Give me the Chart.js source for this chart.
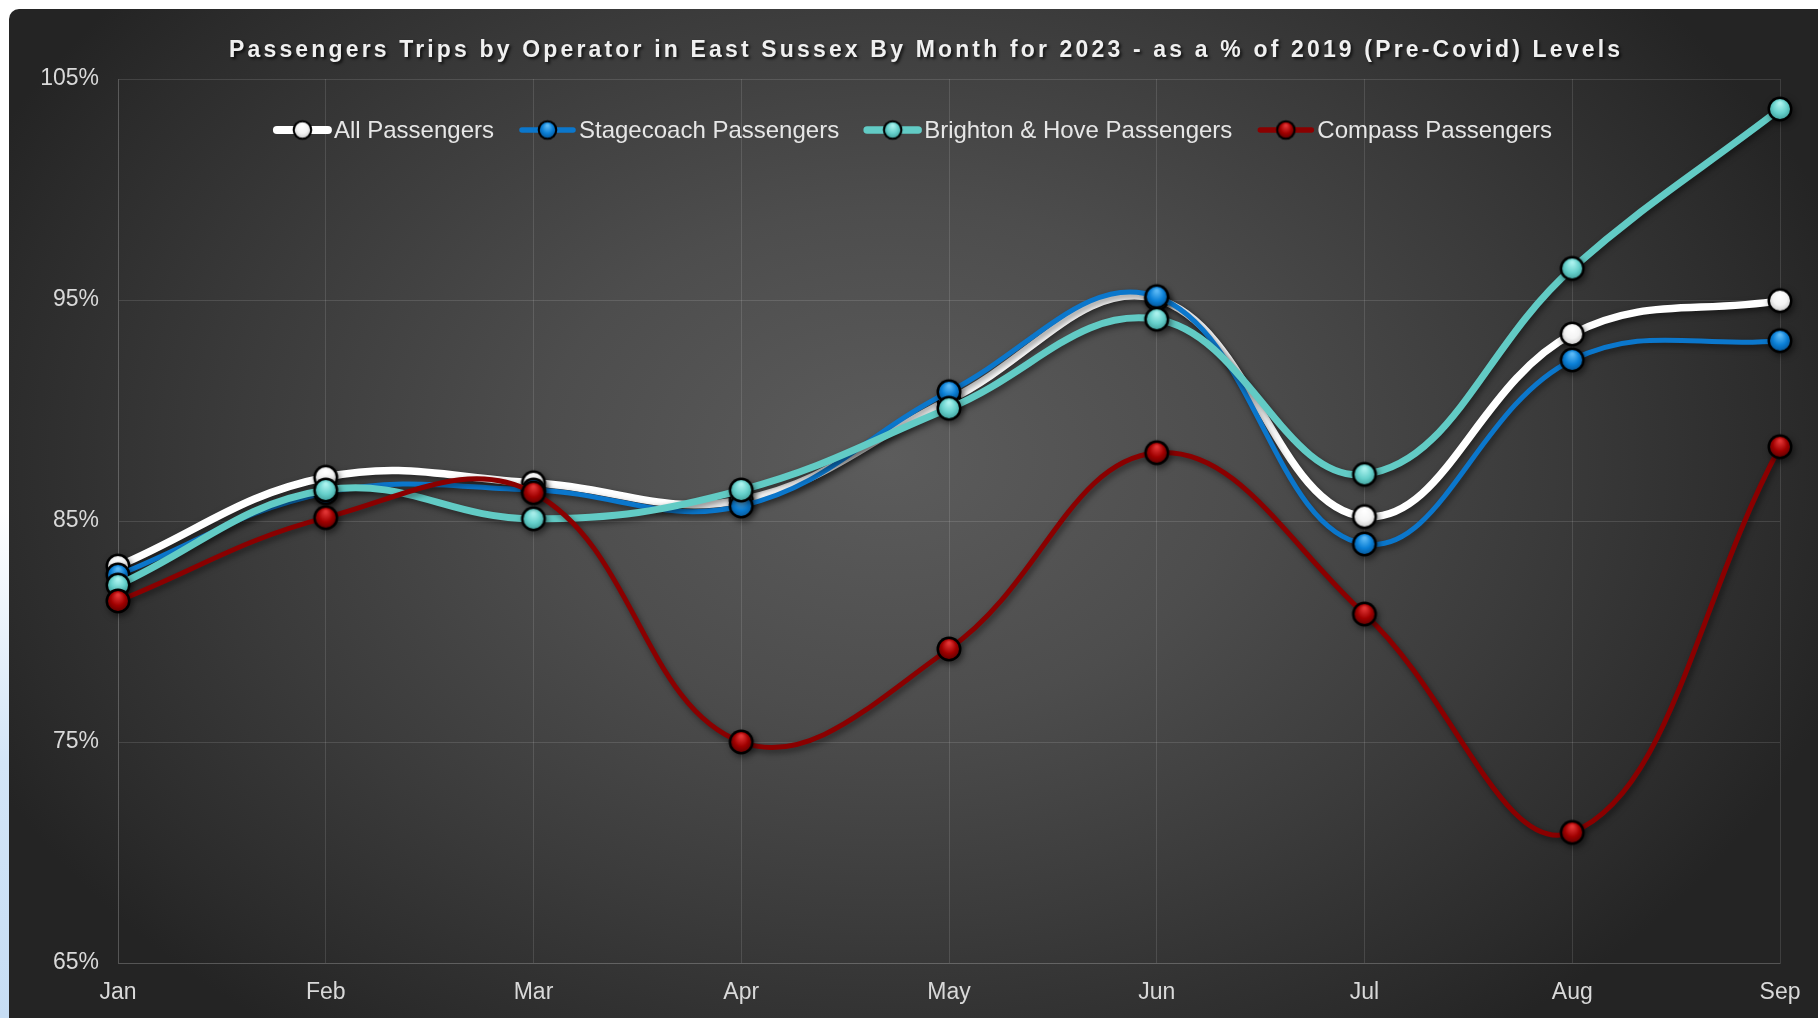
<!DOCTYPE html>
<html>
<head>
<meta charset="utf-8">
<title>Passenger Trips by Operator - East Sussex 2023</title>
<script src="https://cdn.jsdelivr.net/npm/chart.js@4.4.0/dist/chart.umd.min.js"></script>
<style>
  html, body {
    margin: 0;
    padding: 0;
    width: 1818px;
    height: 1018px;
    overflow: hidden;
    background: linear-gradient(to bottom, #ffffff 0%, #ffffff 50%, #d3e5f7 75%, #c6ddf4 100%);
  }
  .panel {
    position: absolute;
    left: 9px;
    top: 9px;
    width: 1809px;
    height: 1009px;
    border-top-left-radius: 10px;
    background: radial-gradient(ellipse 1000px 720px at 880px 450px,
      #5c5c5c 0%, #4d4d4d 35%, #3b3b3b 65%, #2b2b2b 90%, #242424 100%);
  }
  .chart-box {
    position: absolute;
    left: 0;
    top: 0;
    width: 1818px;
    height: 1018px;
  }
</style>
</head>
<body>
<div class="panel"></div>
<div class="chart-box"><canvas id="tripsChart"></canvas></div>

<script>
// data (% of 2019 levels)
const months = ['Jan', 'Feb', 'Mar', 'Apr', 'May', 'Jun', 'Jul', 'Aug', 'Sep'];
const allPassengers = [82.96, 86.98, 86.73, 85.95, 90.47, 95.05, 85.2, 93.46, 94.97];
const stagecoach = [82.56, 86.28, 86.4, 85.68, 90.85, 95.15, 83.96, 92.29, 93.16];
const brightonHove = [82.1, 86.4, 85.1, 86.4, 90.1, 94.13, 87.11, 96.43, 103.64];
const compass = [81.38, 85.15, 86.28, 75.0, 79.21, 88.09, 80.79, 70.91, 88.36];
const yTicks = [65, 75, 85, 95, 105];

const titleText = 'Passengers Trips by Operator in East Sussex By Month for 2023 - as a % of 2019 (Pre-Covid) Levels';
const FONT = '"Liberation Sans", Arial, sans-serif';
const gridColor = 'rgba(255,255,255,0.12)';
const tickColor = '#d9d9d9';

// glossy marker drawn once, used as pointStyle image
function makeBall(base, light, dark, r, b) {
    const size = Math.ceil((r + b) * 2) + 2;
    const cv = document.createElement('canvas');
    cv.width = size;
    cv.height = size;
    const c = cv.getContext('2d');
    const cx = size / 2, cy = size / 2;
    c.beginPath();
    c.arc(cx, cy, r + b / 2, 0, Math.PI * 2);
    c.fillStyle = '#000';
    c.fill();
    const g = c.createRadialGradient(cx, cy - r * 0.55, r * 0.1, cx, cy, r * 1.1);
    g.addColorStop(0, light);
    g.addColorStop(0.55, base);
    g.addColorStop(1, dark);
    c.beginPath();
    c.arc(cx, cy, r - b / 2 + 0.5, 0, Math.PI * 2);
    c.fillStyle = g;
    c.fill();
    return cv;
}

const ballColours = [
    ['#f4f4f4', '#ffffff', '#c4c4c4'],
    ['#0a7fd6', '#5ab8f5', '#05508f'],
    ['#66d0cb', '#aaf2ee', '#3a9a96'],
    ['#a00000', '#e03434', '#560000']
];
const pointBalls = ballColours.map(c => makeBall(c[0], c[1], c[2], 11, 3));
const legendBalls = ballColours.map(c => makeBall(c[0], c[1], c[2], 8.5, 2.6));

function series(label, data, colour, width, ball, order) {
    return {
        label: label,
        data: data,
        borderColor: colour,
        backgroundColor: colour,
        borderWidth: width,
        tension: 0.4,
        pointStyle: ball,
        pointRadius: 13,
        pointHoverRadius: 13,
        order: order,
        clip: false
    };
}

// drop shadow under each line and its markers
const shadowPlugin = {
    id: 'lineShadow',
    beforeDatasetDraw(chart) {
        const c = chart.ctx;
        c.save();
        c.shadowColor = 'rgba(0,0,0,0.5)';
        c.shadowBlur = 6;
        c.shadowOffsetX = 2;
        c.shadowOffsetY = 3;
    },
    afterDatasetDraw(chart) {
        chart.ctx.restore();
    }
};

// letter-spaced bold title
const titlePlugin = {
    id: 'spacedTitle',
    afterDraw(chart) {
        const c = chart.ctx;
        c.save();
        c.font = 'bold 23px ' + FONT;
        c.textBaseline = 'middle';
        const w0 = c.measureText(titleText).width;
        const spacing = (1391 - w0) / (titleText.length - 1);
        c.letterSpacing = spacing + 'px';
        c.shadowColor = 'rgba(0,0,0,0.7)';
        c.shadowOffsetX = 2;
        c.shadowOffsetY = 2;
        c.shadowBlur = 3;
        c.fillStyle = '#f0f0f0';
        c.fillText(titleText, 229, 51);
        c.restore();
    }
};

// legend sitting inside the plot area, line + marker style
const legendPlugin = {
    id: 'insideLegend',
    afterDraw(chart) {
        const c = chart.ctx;
        c.save();
        c.font = '24px ' + FONT;
        c.textBaseline = 'middle';
        const lineW = 57, gapText = 3, gapItem = 25;
        const sets = chart.data.datasets;
        const widths = sets.map(d => c.measureText(d.label).width);
        const total = widths.reduce((a, w) => a + lineW + gapText + w, 0) + gapItem * (widths.length - 1);
        let x = chart.width / 2 + 4 - total / 2;
        const y = 130;
        sets.forEach((d, i) => {
            c.strokeStyle = d.borderColor;
            c.lineWidth = d.borderWidth + 0.5;
            c.lineCap = 'round';
            c.beginPath();
            c.moveTo(x + 3, y);
            c.lineTo(x + lineW - 3, y);
            c.stroke();
            const img = legendBalls[i];
            c.drawImage(img, x + lineW / 2 - img.width / 2, y - img.height / 2);
            c.fillStyle = '#e6e6e6';
            c.fillText(d.label, x + lineW + gapText, y + 1);
            x += lineW + gapText + widths[i] + gapItem;
        });
        c.restore();
    }
};

const ctx = document.getElementById('tripsChart').getContext('2d');
new Chart(ctx, {
    type: 'line',
    data: {
        labels: months,
        datasets: [
            series('All Passengers', allPassengers, '#ffffff', 7.5, pointBalls[0], 4),
            series('Stagecoach Passengers', stagecoach, '#0b77cc', 5, pointBalls[1], 3),
            series('Brighton & Hove Passengers', brightonHove, '#62cbc5', 7, pointBalls[2], 2),
            series('Compass Passengers', compass, '#8a0000', 5, pointBalls[3], 1)
        ]
    },
    options: {
        responsive: true,
        maintainAspectRatio: false,
        animation: false,
        layout: {
            padding: { top: 79, right: 38, left: 0, bottom: 0 }
        },
        plugins: {
            legend: { display: false },
            title: { display: false },
            tooltip: { enabled: false }
        },
        scales: {
            x: {
                grid: { color: gridColor, drawTicks: false },
                border: { color: gridColor },
                ticks: {
                    color: tickColor,
                    font: { family: FONT, size: 23 },
                    padding: 16,
                    maxRotation: 0,
                    autoSkip: false
                },
                afterFit: s => { s.height = 55; }
            },
            y: {
                min: yTicks[0],
                max: yTicks[yTicks.length - 1],
                grid: { color: gridColor, drawTicks: false },
                border: { color: gridColor },
                afterBuildTicks: s => { s.ticks = yTicks.map(v => ({ value: v })); },
                ticks: {
                    color: tickColor,
                    font: { family: FONT, size: 23 },
                    padding: 19,
                    callback: v => v + '%'
                },
                afterFit: s => { s.width = 118; }
            }
        }
    },
    plugins: [shadowPlugin, titlePlugin, legendPlugin]
});
</script>
</body>
</html>
